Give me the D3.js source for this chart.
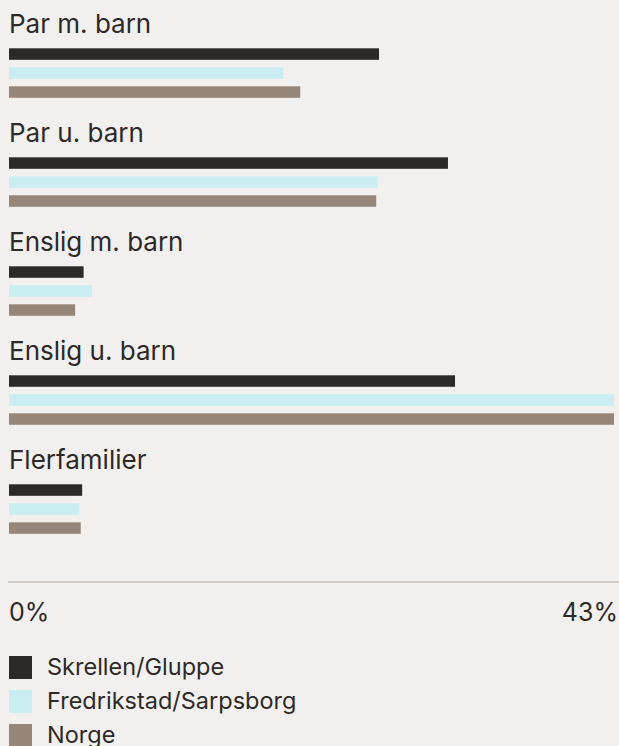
<!DOCTYPE html>
<html>
<head>
<meta charset="utf-8">
<script src="https://cdn.jsdelivr.net/npm/d3@7"></script>
<style>
  html, body { margin: 0; padding: 0; background: #f2f0ee; }
  svg { display: block; font-family: Inter, "Noto Sans", sans-serif; }
</style>
</head>
<body>
<svg id="chart" width="619" height="746"></svg>
<script>
// Household types (share of households, %)
const categories = ["Par m. barn", "Par u. barn", "Enslig m. barn", "Enslig u. barn", "Flerfamilier"];
const seriesNames = ["Skrellen/Gluppe", "Fredrikstad/Sarpsborg", "Norge"];
const skrellen    = [26.3, 31.2, 5.3, 31.7, 5.2];
const fredrikstad = [19.5, 26.2, 5.9, 43.0, 5.0];
const norge       = [20.7, 26.1, 4.7, 43.0, 5.1];
const axisMax = 43;
const tickLabels = ["0%", "43%"];
const colors = ["#2d2926", "#c9edf1", "#968579"];

const values = [skrellen, fredrikstad, norge];

const svg = d3.select("#chart");
const W = 619;
const left = 9, right = 614;

const x = d3.scaleLinear().domain([0, axisMax]).range([left, right]);

// one band per household type
const y = d3.scaleBand().domain(categories).range([0, 545]).paddingInner(0).paddingOuter(0);
// bars inside a band: 11.5px bars on a 19px step
const yInner = d3.scaleBand().domain(seriesNames).range([48.3, 97.8]).paddingInner(0.395).paddingOuter(0);

const groups = svg.selectAll("g.cat")
  .data(categories)
  .join("g")
  .attr("class", "cat")
  .attr("transform", d => `translate(0,${y(d)})`);

groups.append("text")
  .attr("x", left)
  .attr("y", 33)
  .attr("fill", "#2d2926")
  .style("font-size", "26px")
  .text(d => d);

groups.each(function (cat, ci) {
  d3.select(this).selectAll("rect")
    .data(seriesNames.map((s, si) => ({ s, si, v: values[si][ci] })))
    .join("rect")
    .attr("x", x(0))
    .attr("y", d => yInner(d.s))
    .attr("width", d => x(d.v) - x(0))
    .attr("height", yInner.bandwidth())
    .attr("fill", d => colors[d.si]);
});

// axis baseline
svg.append("line")
  .attr("x1", left - 1).attr("x2", W)
  .attr("y1", 582).attr("y2", 582)
  .attr("stroke", "#b3a69d").attr("stroke-width", 1.2);

svg.append("text")
  .attr("x", left).attr("y", 621)
  .attr("fill", "#2d2926").style("font-size", "25px")
  .text(tickLabels[0]);
svg.append("text")
  .attr("x", 618).attr("y", 621)
  .attr("text-anchor", "end")
  .attr("fill", "#2d2926").style("font-size", "25px")
  .text(tickLabels[1]);

// legend
const legend = svg.selectAll("g.leg")
  .data(seriesNames)
  .join("g")
  .attr("class", "leg")
  .attr("transform", (d, i) => `translate(${left},${656 + i * 34})`);
legend.append("rect")
  .attr("width", 23).attr("height", 23)
  .attr("fill", (d, i) => colors[i]);
legend.append("text")
  .attr("x", 38).attr("y", 19)
  .attr("fill", "#2d2926").style("font-size", "23.5px")
  .text(d => d);
</script>
</body>
</html>
